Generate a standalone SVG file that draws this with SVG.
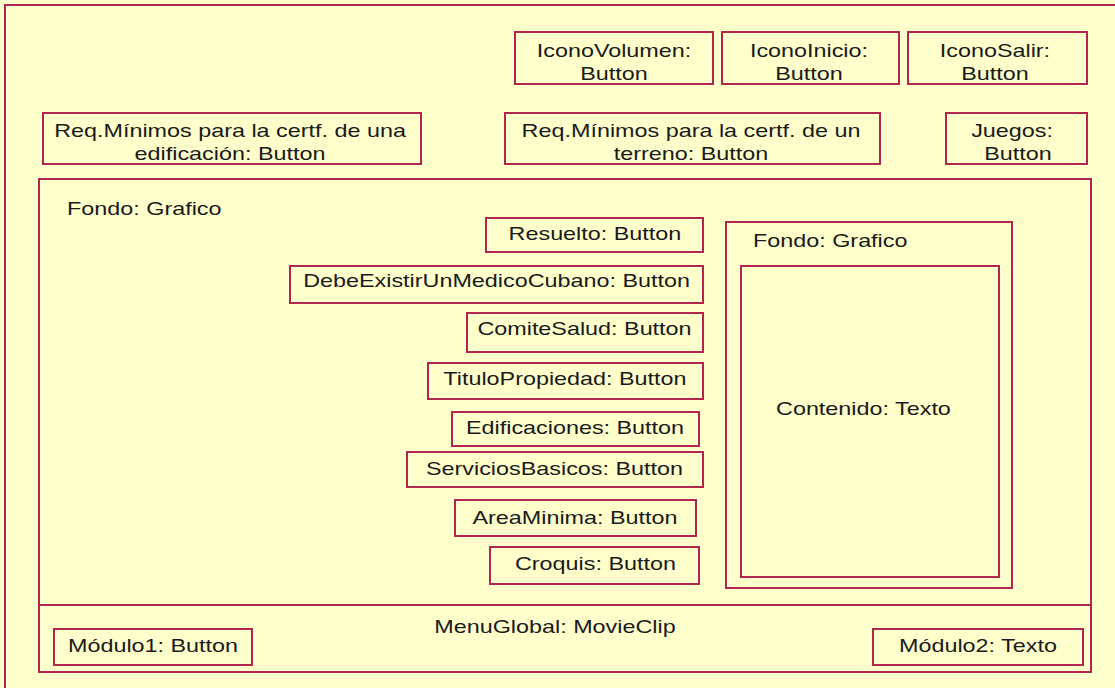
<svg xmlns="http://www.w3.org/2000/svg" width="1115" height="688" viewBox="0 0 1115 688">
<style>
.bx{fill:none;stroke:#B1264F;stroke-width:2}
.t{font-family:"Liberation Sans",Arial,sans-serif;font-size:19px;fill:#1a1a1a}
.m{text-anchor:middle}
</style>
<rect x="0" y="0" width="1115" height="688" fill="#FFFFCC"/>
<g id="frame"><rect class="bx" x="5" y="5" width="1130" height="700"/></g>
<g id="nodes">
<g id="iconoVolumen"><rect class="bx" x="515" y="32" width="198" height="52"/></g>
<g id="iconoInicio"><rect class="bx" x="722" y="32" width="177" height="52"/></g>
<g id="iconoSalir"><rect class="bx" x="908" y="32" width="179" height="52"/></g>
<g id="reqEdificacion"><rect class="bx" x="43" y="113" width="378" height="51"/></g>
<g id="reqTerreno"><rect class="bx" x="505" y="113" width="375" height="51"/></g>
<g id="juegos"><rect class="bx" x="946" y="113" width="141" height="51"/></g>
<g id="fondo"><rect class="bx" x="39" y="179" width="1052" height="493"/><line class="bx" x1="39" y1="605" x2="1091" y2="605"/></g>
<g id="resuelto"><rect class="bx" x="486" y="218" width="217" height="34"/></g>
<g id="debeExistir"><rect class="bx" x="290" y="266" width="413" height="37"/></g>
<g id="comiteSalud"><rect class="bx" x="467" y="313" width="236" height="39"/></g>
<g id="tituloPropiedad"><rect class="bx" x="428" y="363" width="275" height="36"/></g>
<g id="edificaciones"><rect class="bx" x="452" y="412" width="247" height="34"/></g>
<g id="serviciosBasicos"><rect class="bx" x="407" y="452" width="296" height="35"/></g>
<g id="areaMinima"><rect class="bx" x="455" y="500" width="241" height="36"/></g>
<g id="croquis"><rect class="bx" x="490" y="547" width="209" height="37"/></g>
<g id="fondoInterno"><rect class="bx" x="726" y="222" width="286" height="366"/></g>
<g id="contenido"><rect class="bx" x="741" y="266" width="258" height="311"/></g>
<g id="modulo1"><rect class="bx" x="54" y="629" width="198" height="36"/></g>
<g id="modulo2"><rect class="bx" x="873" y="629" width="210" height="36"/></g>
</g>
<g id="connectors"></g>
<g id="labels" transform="scale(1.23,1)">
<text class="t m" x="499.2" y="57">IconoVolumen:</text>
<text class="t m" x="499.2" y="80">Button</text>
<text class="t m" x="657.7" y="57">IconoInicio:</text>
<text class="t m" x="657.7" y="80">Button</text>
<text class="t m" x="808.9" y="57">IconoSalir:</text>
<text class="t m" x="808.9" y="80">Button</text>
<text class="t m" x="187" y="137">Req.Mínimos para la certf. de una</text>
<text class="t m" x="187" y="160">edificación: Button</text>
<text class="t m" x="561.8" y="137">Req.Mínimos para la certf. de un</text>
<text class="t m" x="561.8" y="160">terreno: Button</text>
<text class="t m" x="822.8" y="137">Juegos:</text>
<text class="t m" x="827.6" y="160">Button</text>
<text class="t" x="54.5" y="215">Fondo: Grafico</text>
<text class="t m" x="483.7" y="240">Resuelto: Button</text>
<text class="t m" x="403.7" y="287">DebeExistirUnMedicoCubano: Button</text>
<text class="t m" x="475.2" y="335">ComiteSalud: Button</text>
<text class="t m" x="459.3" y="385">TituloPropiedad: Button</text>
<text class="t m" x="467.5" y="434">Edificaciones: Button</text>
<text class="t m" x="450.8" y="475">ServiciosBasicos: Button</text>
<text class="t m" x="467.5" y="524">AreaMinima: Button</text>
<text class="t m" x="484.1" y="570">Croquis: Button</text>
<text class="t" x="612.2" y="247">Fondo: Grafico</text>
<text class="t m" x="702" y="415">Contenido: Texto</text>
<text class="t m" x="451.2" y="633">MenuGlobal: MovieClip</text>
<text class="t m" x="124.4" y="652">Módulo1: Button</text>
<text class="t m" x="795.1" y="652">Módulo2: Texto</text>
</g>
</svg>
